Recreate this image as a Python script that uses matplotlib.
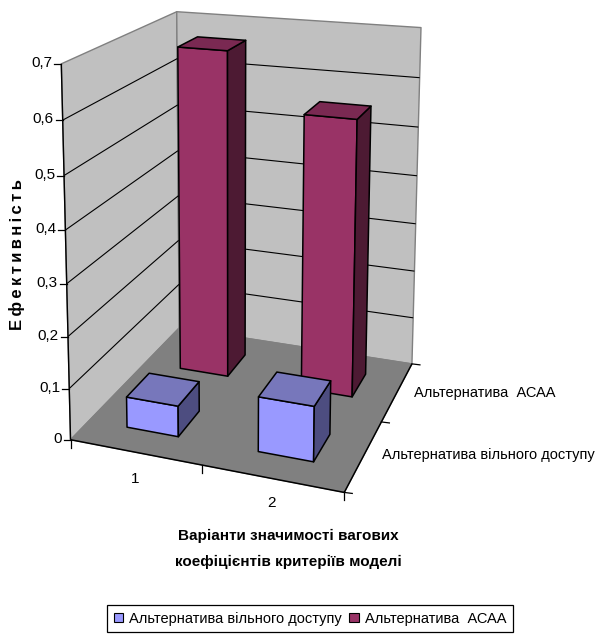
"""3D clustered columns, drawn with a small projective camera fitted to the chart box."""

import numpy as np
import matplotlib
matplotlib.use("Agg")
import matplotlib.pyplot as plt
from matplotlib.patches import Patch, Polygon

plt.rcParams["font.family"] = ["Liberation Sans", "DejaVu Sans"]

# Data
categories = ["1", "2"]
series_names = ["Альтернатива вільного доступу", "Альтернатива  АСАА"]
free_access = [0.06, 0.105]
acaa = [0.667, 0.555]
z_ticks = [0, 0.1, 0.2, 0.3, 0.4, 0.5, 0.6, 0.7]
z_max = 0.7

# Colours
WALL = "#C0C0C0"
FLOOR = "#808080"
EDGE = "#808080"
BLUE = ("#9999FF", "#7777BB", "#4D4D80")
PURPLE = ("#993366", "#7A2952", "#4D1A33")

# Chart box: (x, depth, height 0-1) -> pixel position in the picture
box_nodes = [
    ((0, 0, 0), (72, 440)), ((1, 0, 0), (343, 493)),
    ((1, 1, 0), (413, 363)), ((0, 1, 0), (178, 328)),
    ((0, 0, 1), (61, 63)), ((0, 1, 1), (177, 12)), ((1, 1, 1), (421, 28)),
]


def fit_camera(nodes):
    rows, rhs = [], []
    for (x, y, z), (u, v) in nodes:
        rows.append([x, y, z, 1, 0, 0, 0, 0, -u * x, -u * y, -u * z])
        rows.append([0, 0, 0, 0, x, y, z, 1, -v * x, -v * y, -v * z])
        rhs += [u, v]
    p = np.linalg.lstsq(np.array(rows, float), np.array(rhs, float), rcond=None)[0]
    return np.append(p, 1).reshape(3, 4)


CAM = fit_camera(box_nodes)


def proj(x, y, value):
    u, v, w = CAM @ np.array([x, y, value / z_max, 1.0])
    return u / w, v / w


fig = plt.figure(figsize=(5.97, 6.35), dpi=100)
ax = fig.add_axes([0, 0, 1, 1])
ax.set_xlim(0, 597)
ax.set_ylim(635, 0)
ax.axis("off")


def face(points, color, ec="black", lw=1.1, z=1):
    ax.add_patch(Polygon([proj(*p) for p in points], closed=True, fc=color,
                         ec=ec, lw=lw, zorder=z, joinstyle="round"))


def line(a, b, color="black", lw=0.8, z=2):
    p, q = proj(*a), proj(*b)
    ax.plot([p[0], q[0]], [p[1], q[1]], color=color, lw=lw, zorder=z,
            solid_capstyle="butt")


# Walls and floor
face([(0, 0, 0), (0, 1, 0), (0, 1, z_max), (0, 0, z_max)], WALL, EDGE, 1.0)
face([(0, 1, 0), (1, 1, 0), (1, 1, z_max), (0, 1, z_max)], WALL, EDGE, 1.0)

for val in z_ticks[1:-1]:
    line((0, 0, val), (0, 1, val))
    line((0, 1, val), (1, 1, val))

face([(0, 0, 0), (1, 0, 0), (1, 1, 0), (0, 1, 0)], FLOOR, FLOOR, 0.8, z=3)

# Axis lines, ticks, tick labels
line((0, 0, 0), (0, 0, z_max), z=4, lw=1.0)
line((0, 0, 0), (1, 0, 0), z=4, lw=1.1)
line((1, 0, 0), (1, 1, 0), z=4, lw=1.1)

for val in z_ticks:
    px, py = proj(0, 0, val)
    ax.plot([px - 7, px], [py, py], color="black", lw=0.9, zorder=4)
    label = "0" if val == 0 else f"{val:.1f}".replace(".", ",")
    ax.text(px - 9, py - 1, label, ha="right", va="center", fontsize=11, zorder=5)

for x_tick in [0, 0.5, 1]:
    px, py = proj(x_tick, 0, 0)
    ax.plot([px, px], [py, py + 8], color="black", lw=0.9, zorder=4)

for y_tick in [0, 0.5, 1]:
    px, py = proj(1, y_tick, 0)
    ax.plot([px, px + 8], [py, py + 1], color="black", lw=0.9, zorder=4)

ax.text(135, 479, categories[0], ha="center", va="center", fontsize=11)
ax.text(272, 503, categories[1], ha="center", va="center", fontsize=11)
ax.text(414, 393, series_names[1], ha="left", va="center", fontsize=10.5)
ax.text(382, 455, series_names[0], ha="left", va="center", fontsize=10.5)


# Columns: back row first so the front row overlaps it
def column(x0, x1, y0, y1, value, colors, z):
    front, top, side = colors
    face([(x0, y0, 0), (x1, y0, 0), (x1, y0, value), (x0, y0, value)], front, z=z)
    face([(x1, y0, 0), (x1, y1, 0), (x1, y1, value), (x1, y0, value)], side, z=z)
    face([(x0, y0, value), (x1, y0, value), (x1, y1, value), (x0, y1, value)], top, z=z)


BAR_X = [(0.15, 0.35), (0.65, 0.85)]
BAR_Y = [(0.15, 0.35), (0.65, 0.85)]
for (x0, x1), value in zip(BAR_X, acaa):
    column(x0, x1, BAR_Y[1][0], BAR_Y[1][1], value, PURPLE, z=6)
for (x0, x1), value in zip(BAR_X, free_access):
    column(x0, x1, BAR_Y[0][0], BAR_Y[0][1], value, BLUE, z=7)

# Titles
ax.text(17, 255, "\u2009".join("Ефективність"), rotation=90, ha="center", va="center",
        fontsize=12, fontweight="bold")
ax.text(288, 536, "Варіанти значимості вагових", ha="center", va="center",
        fontsize=11, fontweight="bold")
ax.text(288, 562, "коефіцієнтів критеріїв моделі", ha="center", va="center",
        fontsize=11, fontweight="bold")

# Legend
handles = [Patch(fc=BLUE[0], ec="black", lw=0.8, label=series_names[0]),
           Patch(fc=PURPLE[0], ec="black", lw=0.8, label=series_names[1])]
ax.legend(handles=handles, ncol=2, loc="center", bbox_to_anchor=(310 / 597, 1 - 618.5 / 635),
          fontsize=10.5, fancybox=False, framealpha=1, edgecolor="black",
          handlelength=0.65, handleheight=0.65, handletextpad=0.4, columnspacing=0.5,
          borderpad=0.45, borderaxespad=0).get_frame().set_linewidth(0.9)

fig.savefig("out.png", dpi=100, facecolor="white")
